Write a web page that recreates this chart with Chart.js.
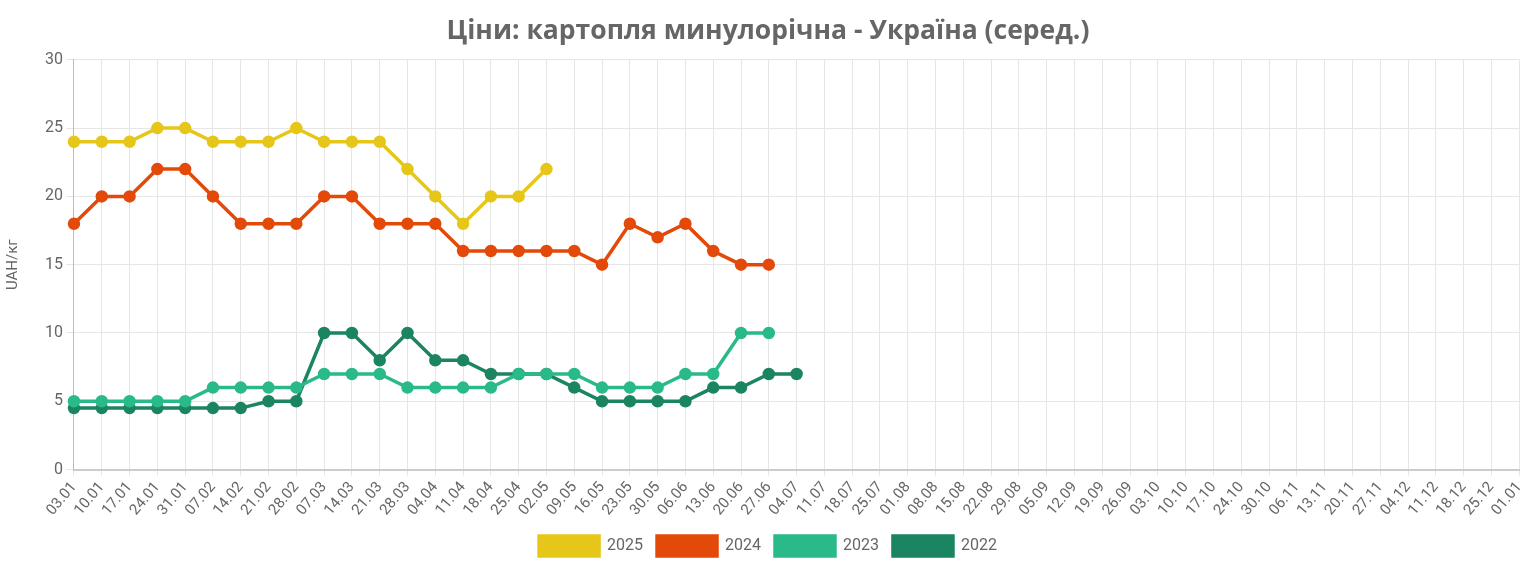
<!DOCTYPE html>
<html>
<head>
<meta charset="utf-8">
<script src="https://cdn.jsdelivr.net/npm/chart.js@4.4.0/dist/chart.umd.min.js"></script>
<style>
  html, body { margin: 0; padding: 0; background: #fff; }
  #wrap { width: 1536px; height: 569px; }
</style>
</head>
<body>
<div id="wrap"><canvas id="priceChart"></canvas></div>
<script>
const weeks = ["03.01","10.01","17.01","24.01","31.01","07.02","14.02","21.02","28.02","07.03",
  "14.03","21.03","28.03","04.04","11.04","18.04","25.04","02.05","09.05","16.05","23.05","30.05",
  "06.06","13.06","20.06","27.06","04.07","11.07","18.07","25.07","01.08","08.08","15.08","22.08",
  "29.08","05.09","12.09","19.09","26.09","03.10","10.10","17.10","24.10","30.10","06.11","13.11",
  "20.11","27.11","04.12","11.12","18.12","25.12","01.01"];

const y2025 = [24,24,24,25,25,24,24,24,25,24,24,24,22,20,18,20,20,22];
const y2024 = [18,20,20,22,22,20,18,18,18,20,20,18,18,18,16,16,16,16,16,15,18,17,18,16,15,15];
const y2023 = [5,5,5,5,5,6,6,6,6,7,7,7,6,6,6,6,7,7,7,6,6,6,7,7,10,10];
const y2022 = [4.5,4.5,4.5,4.5,4.5,4.5,4.5,5,5,10,10,8,10,8,8,7,7,7,6,5,5,5,5,6,6,7,7];

function series(label, data, color) {
  return {
    label: label,
    data: data,
    borderColor: color,
    backgroundColor: color,
    borderWidth: 3.5,
    pointRadius: 4.5,
    pointHoverRadius: 5,
    tension: 0,
    fill: false
  };
}

let chart;

window.onload = () => {
  const ctx = document.getElementById("priceChart");
  chart = new Chart(ctx, {
    type: "line",
    data: {
      labels: weeks,
      datasets: [
        series("2025", y2025, "#e6c619"),
        series("2024", y2024, "#e34a0a"),
        series("2023", y2023, "#2aba8a"),
        series("2022", y2022, "#1b8462")
      ]
    },
    options: {
      responsive: true,
      maintainAspectRatio: false,
      animation: false,
      layout: { padding: { left: 0, right: 0, top: 4, bottom: 3 } },
      plugins: {
        title: {
          display: true,
          text: "Ціни: картопля минулорічна - Україна (серед.)",
          color: "#666",
          font: { family: "'Open Sans', sans-serif", size: 26.5, weight: "bold" },
          padding: { top: 12, bottom: 12 }
        },
        legend: {
          position: "bottom",
          labels: {
            boxWidth: 60,
            boxHeight: 20,
            color: "#666",
            font: { family: "Roboto", size: 16 },
            padding: 14
          }
        }
      },
      scales: {
        x: {
          grid: { color: "#e6e6e6", tickLength: 6 },
          border: { color: "#ccc", width: 2 },
          ticks: {
            color: "#666",
            font: { family: "Roboto", size: 15 },
            maxRotation: 50,
            minRotation: 50,
            autoSkip: false
          }
        },
        y: {
          min: 0,
          max: 30,
          afterFit: s => { s.width += 16; },
          grid: { color: "#e6e6e6", tickLength: 8 },
          border: { color: "#bbb" },
          ticks: {
            stepSize: 5,
            color: "#666",
            font: { family: "Roboto", size: 16 }
          },
          title: {
            display: true,
            text: "UAH/кг",
            color: "#666",
            font: { family: "Roboto", size: 15 }
          }
        }
      }
    }
  });
};
</script>
</body>
</html>
